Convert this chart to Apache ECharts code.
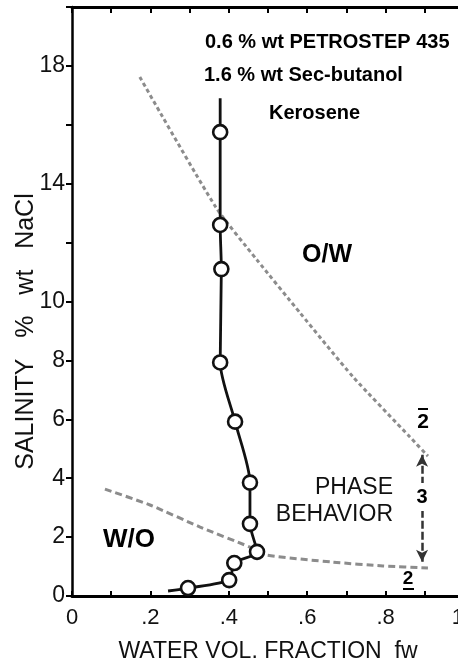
<!DOCTYPE html>
<html><head><meta charset="utf-8">
<script src="https://cdn.jsdelivr.net/npm/echarts@6/dist/echarts.min.js"></script>
<style>html,body{margin:0;padding:0;background:#fff}#c{width:458px;height:665px}</style>
</head><body><div id="c"></div>
<script>
// Solid curve: water volume fraction vs salinity (markers = measured points)
const solidFw  = [0.378, 0.378, 0.378, 0.381, 0.378, 0.416, 0.454, 0.454, 0.472, 0.414, 0.401, 0.296, 0.245];
const solidSal = [16.9, 15.75, 12.6, 11.1, 7.93, 5.92, 3.85, 2.45, 1.5, 1.12, 0.54, 0.27, 0.17];
const solidMarked = [false, true, true, true, true, true, true, true, true, true, true, true, false];
// Upper boundary (O/W)
const owFw  = [0.173, 0.367, 0.472, 0.582, 0.717, 0.862, 0.908];
const owSal = [17.62, 13.2, 11.41, 9.61, 7.44, 5.4, 4.75];
// Lower boundary (W/O)
const woFw  = [0.084, 0.199, 0.327, 0.454, 0.497, 0.666, 0.793, 0.908];
const woSal = [3.63, 3.09, 2.34, 1.66, 1.39, 1.15, 1.02, 0.95];
// Three-phase arrow
const arrowFw = 0.893;
const arrowSal = [4.8, 1.16];
// Tick labels
const xTickLabels = {0:'0', 0.2:'.2', 0.4:'.4', 0.6:'.6', 0.8:'.8', 1:'1'};
const yTickLabels = [0, 2, 4, 6, 8, 10, 14, 18];

const FONT = "'Liberation Sans', Arial, Helvetica, sans-serif";
const chart = echarts.init(document.getElementById('c'), null, {renderer:'canvas'});

const solidData = solidFw.map((x,i)=> solidMarked[i] ? [x, solidSal[i]] : {value:[x, solidSal[i]], symbol:'none'});
const owData = owFw.map((x,i)=>[x, owSal[i]]);
const woData = woFw.map((x,i)=>[x, woSal[i]]);

function xFmt(v){ const k = Math.round(v*10)/10; return xTickLabels[k] !== undefined ? xTickLabels[k] : ''; }
function yFmt(v){ return yTickLabels.indexOf(v) >= 0 ? String(v) : ''; }

const axisLineStyle = {color:'#000', width:2.5};

const option = {
  backgroundColor:'#fff',
  animation:false,
  grid:{left:72, top:7, right:-6, bottom:69, containLabel:false, outerBoundsMode:'none'},
  xAxis:[{
    type:'value', min:0, max:1, interval:0.1, position:'bottom',
    name:'WATER VOL. FRACTION  fw', nameLocation:'middle', nameGap:44, nameMoveOverlap:false,
    nameTextStyle:{fontFamily:FONT, fontSize:23, color:'#111'},
    axisLine:{show:true, onZero:false, lineStyle:{color:'#000', width:3}},
    axisTick:{show:true, inside:true, length:5, lineStyle:{color:'#000', width:2}},
    axisLabel:{formatter:xFmt, fontFamily:FONT, fontSize:22, color:'#111', margin:11, showMaxLabel:true, showMinLabel:true, alignMaxLabel:'right', hideOverlap:false},
    splitLine:{show:false}
  },{
    type:'value', min:0, max:1, interval:0.1, position:'top',
    axisLine:{show:true, onZero:false, lineStyle:{color:'#000', width:3}},
    axisTick:{show:true, inside:true, length:6, lineStyle:{color:'#000', width:2}},
    axisLabel:{show:false}, splitLine:{show:false}
  }],
  yAxis:[{
    type:'value', min:0, max:20, interval:2, position:'left',
    name:'SALINITY   %   wt   NaCl', nameLocation:'middle', nameGap:33, nameRotate:90, nameMoveOverlap:false,
    nameTextStyle:{fontFamily:FONT, fontSize:25, color:'#111', padding:[0,60,0,0]},
    axisLine:{show:true, onZero:false, lineStyle:axisLineStyle},
    axisTick:{show:true, inside:false, length:6, lineStyle:{color:'#000', width:2}},
    axisLabel:{formatter:yFmt, fontFamily:FONT, fontSize:23, color:'#111', margin:7},
    splitLine:{show:false}
  },{
    type:'value', min:0, max:20, interval:2, position:'right',
    axisLine:{show:true, onZero:false, lineStyle:axisLineStyle},
    axisTick:{show:true, inside:true, length:6, lineStyle:{color:'#000', width:2}},
    axisLabel:{show:false}, splitLine:{show:false}
  }],
  series:[
    {type:'line', data:owData, showSymbol:false, symbol:'none', smooth:0.2,
     lineStyle:{color:'#8c8c8c', width:3, type:[4,3]}, z:2},
    {type:'line', data:woData, showSymbol:false, symbol:'none', smooth:0.2,
     lineStyle:{color:'#8c8c8c', width:3, type:[7,4]}, z:2,
     markLine:{silent:true, symbol:['arrow','arrow'], symbolSize:[9,12], label:{show:false},
       lineStyle:{color:'#333', width:2.5, type:[8,3]},
       data:[[{coord:[arrowFw, arrowSal[0]]},{coord:[arrowFw, arrowSal[1]]}]]}},
    {type:'line', data:solidData, smooth:0.25, symbol:'circle', symbolSize:14, showAllSymbol:true,
     lineStyle:{color:'#111', width:2.8},
     itemStyle:{color:'#fff', borderColor:'#111', borderWidth:2.6}, z:5}
  ],
  graphic:[
    {type:'text', x:205, y:42, style:{text:'0.6 % wt PETROSTEP 435', font:'bold 20px '+FONT, fill:'#000', textAlign:'left', textVerticalAlign:'middle'}},
    {type:'text', x:204, y:75, style:{text:'1.6 % wt Sec-butanol', font:'bold 20px '+FONT, fill:'#000', textAlign:'left', textVerticalAlign:'middle'}},
    {type:'text', x:269, y:113, style:{text:'Kerosene', font:'bold 20px '+FONT, fill:'#000', textAlign:'left', textVerticalAlign:'middle'}},
    {type:'text', x:302, y:255, style:{text:'O/W', font:'bold 25px '+FONT, fill:'#000', textAlign:'left', textVerticalAlign:'middle'}},
    {type:'text', x:103, y:540, style:{text:'W/O', font:'bold 26px '+FONT, fill:'#000', textAlign:'left', textVerticalAlign:'middle'}},
    {type:'text', x:393, y:488, style:{text:'PHASE', font:'23px '+FONT, fill:'#111', textAlign:'right', textVerticalAlign:'middle'}},
    {type:'text', x:393, y:515, style:{text:'BEHAVIOR', font:'23px '+FONT, fill:'#111', textAlign:'right', textVerticalAlign:'middle'}},
    {type:'rect', shape:{x:414, y:483, width:16, height:28}, style:{fill:'#fff'}, z:100},
    {type:'text', x:422, y:497, style:{text:'3', font:'bold 20px '+FONT, fill:'#000', textAlign:'center', textVerticalAlign:'middle'}, z:101},
    {type:'text', x:423, y:422, style:{text:'2', font:'bold 21px '+FONT, fill:'#000', textAlign:'center', textVerticalAlign:'middle'}},
    {type:'rect', shape:{x:418, y:408, width:10, height:2}, style:{fill:'#000'}},
    {type:'text', x:408, y:579, style:{text:'2', font:'bold 19px '+FONT, fill:'#000', textAlign:'center', textVerticalAlign:'middle'}},
    {type:'rect', shape:{x:403, y:588, width:11, height:2}, style:{fill:'#000'}}
  ]
};
chart.setOption(option);
</script>
</body></html>
